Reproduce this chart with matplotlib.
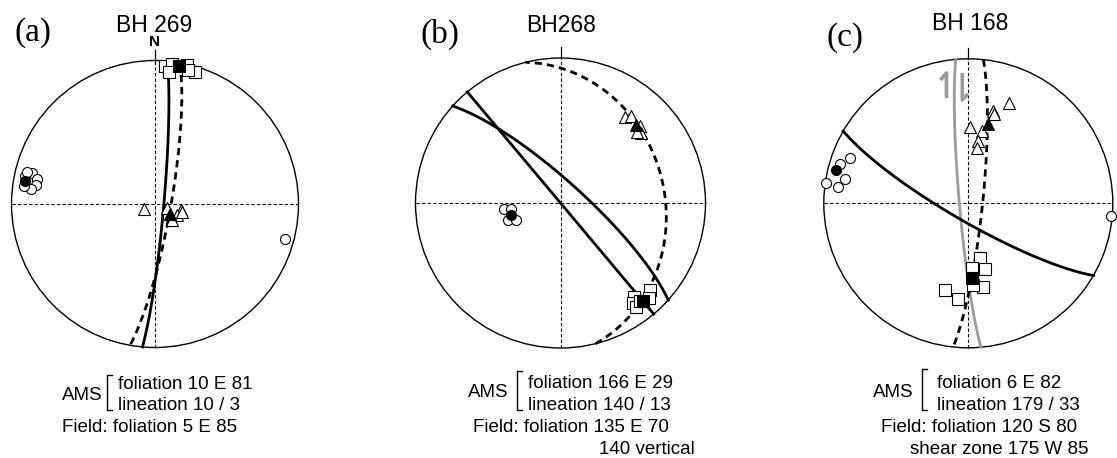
import numpy as np
import matplotlib
matplotlib.use("Agg")
import matplotlib.pyplot as plt
from matplotlib.patches import Circle

plt.rcParams['font.family'] = ['Liberation Sans', 'DejaVu Sans']

W, H = 1117, 458

# ---- panel (a) BH 269: trend / plunge of AMS axes (K1 squares, K2 triangles, K3 circles)
a_k1_trend = [4, 7, 6, 13, 17, 14]
a_k1_plunge = [4, 2, 8, 1, 4, 4]
a_k1_mean = (10, 3)
a_k2_trend = [246, 110, 104, 117, 134, 106]
a_k2_plunge = [83, 83, 75, 76, 77, 74]
a_k2_mean = (123, 80)
a_k3_trend = [282, 284, 282, 279, 277, 278, 284, 105]
a_k3_plunge = [8, 13, 17, 17, 14, 9, 9, 7]
a_k3_mean = (280, 9)
# planes: (strike, dip, dip direction)
a_ams_plane = (10, 81, 100)
a_field_planes = [(5, 85, 95)]

# ---- panel (b) BH268
b_k1_trend = [134, 137, 142, 144, 144, 141]
b_k1_plunge = [15, 11, 19, 16, 12, 14]
b_k1_mean = (140, 13)
b_k2_trend = [37, 39, 46, 49, 47]
b_k2_plunge = [27, 24, 25, 27, 29]
b_k2_mean = (44, 26)
b_k3_trend = [264, 263, 252, 249]
b_k3_plunge = [58, 62, 59, 63]
b_k3_mean = (256, 61)
b_ams_plane = (166, 29, 76)
b_field_planes = [(132, 78, 42), (140, 90, 50)]

# ---- panel (c) BH 168
c_k1_trend = [168, 177, 166, 170, 177, 195, 186]
c_k1_plunge = [58, 53, 51, 41, 43, 38, 34]
c_k1_mean = (177, 47)
c_k2_trend = [22, 15, 16, 1, 11, 9, 9]
c_k2_plunge = [26, 34, 36, 46, 48, 54, 58]
c_k2_mean = (14, 43)
c_k3_trend = [291, 287, 278, 277, 281, 95]
c_k3_plunge = [13, 8, 1, 10, 14, 1]
c_k3_mean = (284, 6)
c_ams_plane = (6, 82, 96)
c_field_planes = [(120, 80, 210)]
c_shear_plane = (175, 85, 265)

titles = ['BH 269', 'BH268', 'BH 168']
letters = ['(a)', '(b)', '(c)']
ams_lines = [['foliation 10 E 81', 'lineation 10 / 3'],
             ['foliation 166 E 29', 'lineation 140 / 13'],
             ['foliation 6 E 82', 'lineation 179 / 33']]
field_lines = [['Field: foliation 5 E 85'],
               ['Field: foliation 135 E 70', '140 vertical'],
               ['Field: foliation 120 S 80', 'shear zone 175 W 85']]


def project(v):
    # lower hemisphere equal-area, unit primitive circle
    n, e, d = v[..., 0], v[..., 1], v[..., 2]
    f = 1.0 / np.sqrt(1.0 + d)
    return e * f, n * f


def line_xy(trend, plunge):
    t = np.radians(np.asarray(trend, float))
    p = np.radians(np.asarray(plunge, float))
    v = np.stack([np.cos(p) * np.cos(t), np.cos(p) * np.sin(t), np.sin(p)], axis=-1)
    return project(v)


def plane_xy(strike, dip, dip_dir, n=200):
    a = np.linspace(0, np.pi, n)
    s, dd, dp = np.radians([strike, dip_dir, dip])
    sv = np.array([np.cos(s), np.sin(s), 0.0])
    dv = np.array([np.cos(dd) * np.cos(dp), np.sin(dd) * np.cos(dp), np.sin(dp)])
    v = np.outer(np.cos(a), sv) + np.outer(np.sin(a), dv)
    return project(v)


def fxy(x, y):
    return x / W, 1 - y / H


def fig_line(fig, xs, ys, **kw):
    fig.add_artist(plt.Line2D([x / W for x in xs], [1 - y / H for y in ys],
                              transform=fig.transFigure, **kw))


panels = [
    dict(center=(155, 204, 143.5),
         k1=(a_k1_trend, a_k1_plunge, a_k1_mean), k2=(a_k2_trend, a_k2_plunge, a_k2_mean),
         k3=(a_k3_trend, a_k3_plunge, a_k3_mean), ams=a_ams_plane, field=a_field_planes, shear=None,
         letter_xy=(33, 41), title_xy=(154.5, 31.5),
         text_x=(62, 107, 118, 62, None), text_y=(400, 375, 389, 410, 432, None)),
    dict(center=(560.5, 203, 145),
         k1=(b_k1_trend, b_k1_plunge, b_k1_mean), k2=(b_k2_trend, b_k2_plunge, b_k2_mean),
         k3=(b_k3_trend, b_k3_plunge, b_k3_mean), ams=b_ams_plane, field=b_field_planes, shear=None,
         letter_xy=(440, 43), title_xy=(561, 31.5),
         text_x=(468, 517, 528, 473, 599), text_y=(397, 371, 388.5, 410, 432, 454)),
    dict(center=(968.3, 203.3, 144.5),
         k1=(c_k1_trend, c_k1_plunge, c_k1_mean), k2=(c_k2_trend, c_k2_plunge, c_k2_mean),
         k3=(c_k3_trend, c_k3_plunge, c_k3_mean), ams=c_ams_plane, field=c_field_planes,
         shear=c_shear_plane,
         letter_xy=(845, 46), title_xy=(970, 30.5),
         text_x=(873, 922, 937, 881, 910), text_y=(397, 369, 387.5, 409.5, 432, 454.5)),
]

fig = plt.figure(figsize=(W / 100, H / 100), dpi=100)
k = 1.12
fs = 13.5

for i, p in enumerate(panels):
    cx, cy, R = p['center']
    ax = fig.add_axes([(cx - k * R) / W, 1 - (cy + k * R) / H, 2 * k * R / W, 2 * k * R / H])
    ax.set_xlim(-k, k)
    ax.set_ylim(-k, k)
    ax.set_aspect('equal')
    ax.axis('off')

    ax.add_patch(Circle((0, 0), 1, fill=False, lw=1.0, color='black', zorder=2))
    ax.plot([-1, 1], [0, 0], color='black', lw=0.8, ls=(0, (3, 2)), zorder=1)
    ax.plot([0, 0], [-1, 1], color='black', lw=0.8, ls=(0, (3, 2)), zorder=1)
    ax.plot([0, 0], [1, 1.075], color='black', lw=0.9, zorder=1, clip_on=False)

    if p['shear'] is not None:
        x, y = plane_xy(*p['shear'])
        ax.plot(x, y, color='#9b9b9b', lw=2.0, zorder=3)
    for pl in p['field']:
        x, y = plane_xy(*pl)
        ax.plot(x, y, color='black', lw=2.0, zorder=3)
    x, y = plane_xy(*p['ams'])
    ax.plot(x, y, color='black', lw=2.0, ls=(0, (2.6, 1.8)), zorder=3)

    for key, mk, ms in [('k1', 's', 8.5), ('k2', '^', 9), ('k3', 'o', 7.2)]:
        tr, pl, mean = p[key]
        x, y = line_xy(tr, pl)
        ax.plot(x, y, ls='none', marker=mk, ms=ms, mfc='white', mec='black', mew=0.8,
                zorder=4, clip_on=False)
        x, y = line_xy(*mean)
        ax.plot(x, y, ls='none', marker=mk, ms=ms, mfc='black', mec='black', mew=0.8,
                zorder=5, clip_on=False)

    if i == 0:
        ax.text(0, 1.08, 'N', ha='center', va='bottom', fontsize=11, fontweight='bold')

    # labels
    lx, ly = p['letter_xy']
    fig.text(*fxy(lx, ly), letters[i], ha='center', va='baseline', fontsize=24,
             family='Liberation Serif')
    tx, ty = p['title_xy']
    fig.text(*fxy(tx, ty), titles[i], ha='center', va='baseline', fontsize=16.5)

    ams_x, brk_x, line_x, field_x, extra_x = p['text_x']
    ams_y, brk_top, y1, y2, y3, y4 = p['text_y']
    fig.text(*fxy(ams_x, ams_y), 'AMS', ha='left', va='baseline', fontsize=fs)
    fig.text(*fxy(line_x, y1), ams_lines[i][0], ha='left', va='baseline', fontsize=fs)
    fig.text(*fxy(line_x, y2), ams_lines[i][1], ha='left', va='baseline', fontsize=fs)
    fig.text(*fxy(field_x, y3), field_lines[i][0], ha='left', va='baseline', fontsize=fs)
    if len(field_lines[i]) > 1:
        fig.text(*fxy(extra_x, y4), field_lines[i][1], ha='left', va='baseline', fontsize=fs)

    # bracket grouping the AMS lines
    fig_line(fig, [brk_x + 5, brk_x, brk_x, brk_x + 5], [brk_top, brk_top, y2, y2],
             color='black', lw=1.0)

# shear sense half-arrows drawn on the shear zone in (c)
fig_line(fig, [946.5, 946.5, 940.5], [98, 73, 80], color='#9b9b9b', lw=2.6,
         solid_capstyle='butt')
fig_line(fig, [962.3, 962.3, 967.8], [73, 100, 94], color='#9b9b9b', lw=2.6,
         solid_capstyle='butt')

fig.savefig('out.png', dpi=100)
